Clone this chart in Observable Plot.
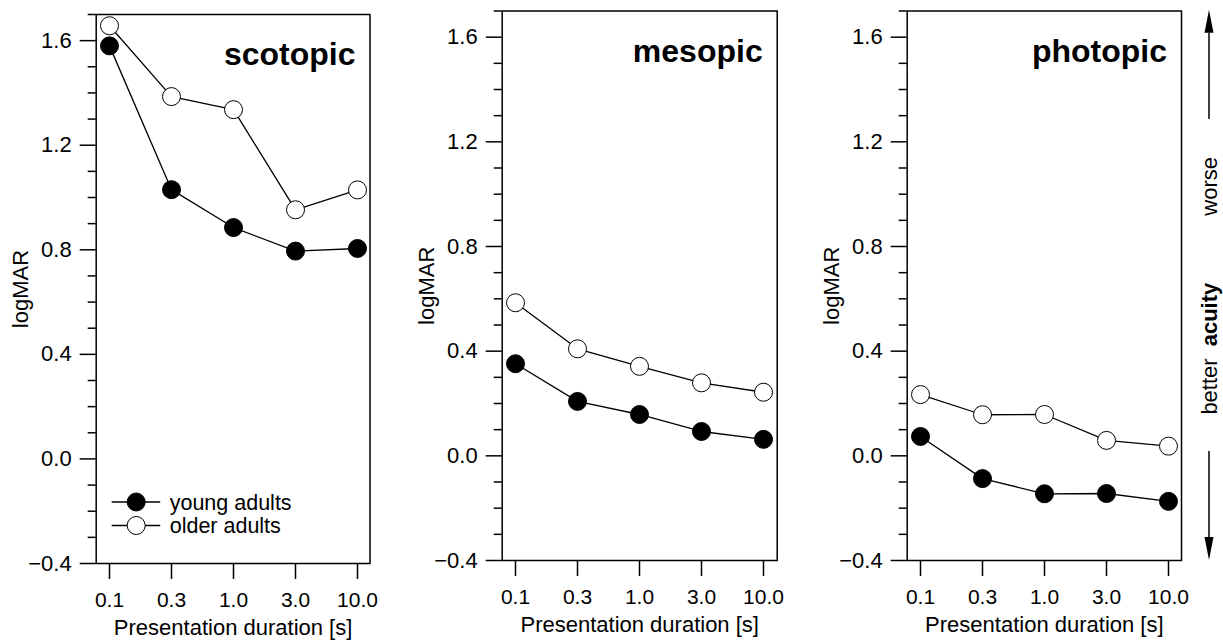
<!DOCTYPE html>
<html>
<head>
<meta charset="utf-8">
<script src="https://cdn.jsdelivr.net/npm/d3@7"></script>
<script src="https://cdn.jsdelivr.net/npm/@observablehq/plot@0.6"></script>
<style>
  html, body { margin: 0; padding: 0; background: #fff; }
  #chart { position: relative; width: 1223px; height: 642px; overflow: hidden; background: #fff; }
  #chart svg { position: absolute; top: 0; }
</style>
</head>
<body>
<div id="chart"></div>
<script>
// Presentation durations (s), shown as categorical ticks
const durations = ["0.1", "0.3", "1.0", "3.0", "10.0"];
const groups = ["young adults", "older adults"];

// logMAR acuity per luminance condition
const scotopicYoung = [1.58, 1.03, 0.885, 0.795, 0.805];
const scotopicOlder = [1.657, 1.386, 1.336, 0.953, 1.029];
const mesopicYoung  = [0.352, 0.208, 0.158, 0.093, 0.063];
const mesopicOlder  = [0.585, 0.409, 0.342, 0.279, 0.243];
const photopicYoung = [0.074, -0.087, -0.145, -0.144, -0.174];
const photopicOlder = [0.234, 0.157, 0.158, 0.059, 0.037];

// y axis
const yDomain = [-0.4, 1.7];
const yMajorTicks = [-0.4, 0.0, 0.4, 0.8, 1.2, 1.6];
const yMinorTicks = [-0.3, -0.2, -0.1, 0.1, 0.2, 0.3, 0.5, 0.6, 0.7, 0.9, 1.0, 1.1, 1.3, 1.4, 1.5, 1.7];

// acuity direction annotation (logMAR values along the right side)
const arrowUp = [1.285, 1.703];
const arrowDown = [0.017, -0.4];
const acuityNotes = [
  {label: "worse", y: 1.03, bold: false},
  {label: "acuity", y: 0.54, bold: true},
  {label: "better", y: 0.265, bold: false}
];

const FONT = "'Liberation Sans', Arial, Helvetica, sans-serif";

function rowsFor(young, older) {
  return {
    young: durations.map((d, i) => ({duration: d, group: groups[0], logMAR: young[i]})),
    older: durations.map((d, i) => ({duration: d, group: groups[1], logMAR: older[i]}))
  };
}

// legend: line + marker + label, placed in the lower-left of the frame
function legendMark(index, scales, values, dims) {
  const g = d3.create("svg:g");
  const x0 = dims.marginLeft;
  const yb = dims.height - dims.marginBottom;
  const entries = [{label: groups[0], fill: "black", dy: -61}, {label: groups[1], fill: "white", dy: -37.5}];
  for (const e of entries) {
    const cy = yb + e.dy;
    g.append("line").attr("x1", x0 + 16).attr("x2", x0 + 64.5).attr("y1", cy).attr("y2", cy)
      .attr("stroke", "black").attr("stroke-width", 1.3);
    g.append("circle").attr("cx", x0 + 40.5).attr("cy", cy).attr("r", 9)
      .attr("fill", e.fill).attr("stroke", "black").attr("stroke-width", 1);
    g.append("text").attr("x", x0 + 74).attr("y", cy).attr("dy", "0.36em")
      .attr("text-anchor", "start").attr("font-size", 21.5).attr("fill", "black").text(e.label);
  }
  return g.node();
}

// arrows for acuity direction, positioned with the y scale
function arrowsMark(index, {y}, values, dims) {
  const g = d3.create("svg:g");
  const x = dims.width - dims.marginRight + 28;
  for (const [from, to] of [arrowUp, arrowDown]) {
    const y1 = y(from), y2 = y(to);
    const dir = Math.sign(y2 - y1);
    const head = 23, half = 4.5;
    g.append("line").attr("x1", x).attr("x2", x).attr("y1", y1).attr("y2", y2 - dir * head)
      .attr("stroke", "black").attr("stroke-width", 1.5);
    g.append("path")
      .attr("d", `M${x},${y2}L${x - half},${y2 - dir * head}L${x + half},${y2 - dir * head}Z`)
      .attr("fill", "black");
  }
  return g.node();
}

function panel({title, young, older, left, width, mL, mR, mT, mB, legend, annotate}) {
  const r = rowsFor(young, older);
  const marks = [
    Plot.frame({stroke: "black", strokeWidth: 1.5}),
    Plot.axisY({ticks: yMinorTicks, tickSize: 8, tickFormat: () => null, strokeWidth: 1.5, label: null}),
    Plot.axisY({ticks: yMajorTicks, tickSize: 16, tickPadding: 8.5, tickFormat: ".1f", strokeWidth: 1.5, label: null, fontSize: 22}),
    Plot.axisX({tickSize: 16, tickPadding: 13, tickFormat: d => d, strokeWidth: 1.5, label: null, fontSize: 21}),
    Plot.text(["Presentation duration [s]"], {text: d => d, frameAnchor: "bottom", dy: 56, textAnchor: "middle", lineAnchor: "top", fontSize: 22}),
    Plot.text(["logMAR"], {text: d => d, frameAnchor: "left", dx: -75, rotate: -90, textAnchor: "middle", lineAnchor: "middle", fontSize: 22}),
    Plot.text([title], {text: d => d, frameAnchor: "top-right", dx: -14.5, dy: 28, textAnchor: "end", lineAnchor: "top", fontSize: 32, fontWeight: "bold"}),
    Plot.line(r.older, {x: "duration", y: "logMAR", stroke: "black", strokeWidth: 1.3}),
    Plot.line(r.young, {x: "duration", y: "logMAR", stroke: "black", strokeWidth: 1.3}),
    Plot.dot(r.older, {x: "duration", y: "logMAR", r: 9, fill: "white", stroke: "black", strokeWidth: 1}),
    Plot.dot(r.young, {x: "duration", y: "logMAR", r: 9, fill: "black", stroke: "black", strokeWidth: 1})
  ];
  if (legend) marks.push(legendMark);
  if (annotate) {
    marks.push(arrowsMark);
    marks.push(Plot.text(acuityNotes.filter(d => !d.bold), {y: "y", text: "label", frameAnchor: "right", dx: 28, rotate: -90, textAnchor: "middle", lineAnchor: "middle", fontSize: 22}));
    marks.push(Plot.text(acuityNotes.filter(d => d.bold), {y: "y", text: "label", frameAnchor: "right", dx: 28, rotate: -90, textAnchor: "middle", lineAnchor: "middle", fontSize: 22, fontWeight: "bold"}));
  }
  const svg = Plot.plot({
    width, height: 642,
    marginLeft: mL, marginRight: mR, marginTop: mT, marginBottom: mB,
    x: {type: "point", domain: durations, padding: 0.2, axis: null},
    y: {domain: yDomain, axis: null},
    style: {fontFamily: FONT, fontSize: "22px", color: "black", background: "transparent", overflow: "visible"},
    marks
  });
  svg.style.left = left + "px";
  return svg;
}

const chart = document.getElementById("chart");
chart.append(
  panel({title: "scotopic", young: scotopicYoung, older: scotopicOlder, left: 0, width: 400, mL: 95.7, mR: 30.5, mT: 14, mB: 79, legend: true}),
  panel({title: "mesopic", young: mesopicYoung, older: mesopicOlder, left: 400, width: 410, mL: 101.7, mR: 33.3, mT: 10.5, mB: 82}),
  panel({title: "photopic", young: photopicYoung, older: photopicOlder, left: 810, width: 413, mL: 96.7, mR: 42, mT: 10.5, mB: 82, annotate: true})
);
</script>
</body>
</html>
